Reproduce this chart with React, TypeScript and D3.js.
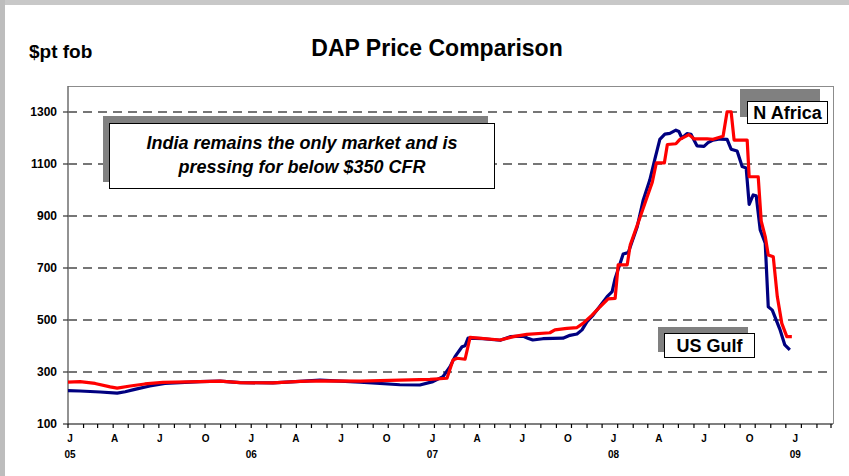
import React from "react";
import * as d3 from "d3";

// ---- Data ----
const usGulfDates = [
  "2005-01-01","2005-01-25","2005-03-06","2005-04-09","2005-04-25","2005-05-14","2005-06-13","2005-07-13",
  "2005-09-21","2005-10-31","2005-12-10","2006-02-13","2006-04-08","2006-05-18","2006-08-06","2006-10-24",
  "2006-12-03","2006-12-29","2007-01-18","2007-02-01","2007-02-11","2007-02-25","2007-03-03","2007-03-09",
  "2007-04-08","2007-05-12","2007-06-01","2007-06-26","2007-07-06","2007-07-16","2007-08-05","2007-09-14",
  "2007-09-28","2007-10-12","2007-10-22","2007-11-01","2007-11-13","2007-11-27","2007-12-11","2007-12-21",
  "2007-12-27","2008-01-06","2008-01-12","2008-01-22","2008-02-09","2008-02-21","2008-03-05","2008-03-15",
  "2008-03-25","2008-04-04","2008-04-14","2008-04-26","2008-05-02","2008-05-08","2008-05-18","2008-05-26",
  "2008-06-07","2008-06-21","2008-06-29","2008-07-09","2008-07-23","2008-08-06","2008-08-14","2008-08-26",
  "2008-09-05","2008-09-13","2008-09-19","2008-09-27","2008-10-03","2008-10-11","2008-10-21","2008-10-27",
  "2008-11-04","2008-11-19","2008-11-29","2008-12-09"
];
const usGulfValues = [
  228, 227, 223, 219, 224, 233, 246, 256,
  263, 265, 259, 258, 264, 269, 261, 251,
  250, 263, 282, 320, 359, 397, 401, 430,
  428, 422, 436, 438, 430, 423, 428, 430,
  441, 446, 462, 494, 519, 554, 590, 609,
  660, 718, 754, 759, 859, 962, 1038, 1118,
  1195, 1215, 1218, 1230, 1225, 1200, 1217, 1214,
  1170, 1168, 1182, 1192, 1196, 1195, 1157, 1150,
  1090, 1085, 945, 981, 978, 846, 795, 551,
  538, 465, 404, 385
];

const nAfricaDates = [
  "2005-01-01","2005-01-25","2005-02-24","2005-03-26","2005-04-09","2005-05-05","2005-06-03","2005-07-09",
  "2005-09-21","2005-10-31","2005-12-10","2006-02-13","2006-04-08","2006-05-18","2006-08-06","2006-10-24",
  "2006-12-23","2007-01-26","2007-02-07","2007-02-15","2007-03-03","2007-03-13","2007-05-12","2007-06-07",
  "2007-07-04","2007-08-19","2007-08-29","2007-09-22","2007-10-12","2007-10-24","2007-11-11","2007-11-27",
  "2007-12-13","2007-12-27","2008-01-02","2008-01-20","2008-01-26","2008-02-15","2008-02-29","2008-03-10",
  "2008-03-18","2008-04-03","2008-04-09","2008-04-26","2008-05-04","2008-05-22","2008-06-01","2008-06-27",
  "2008-07-09","2008-07-29","2008-08-06","2008-08-14","2008-08-20","2008-09-15","2008-09-19","2008-10-07",
  "2008-10-13","2008-10-21","2008-10-27","2008-11-06","2008-11-14","2008-11-23","2008-12-03","2008-12-13"
];
const nAfricaValues = [
  261, 263, 256, 243, 238, 246, 254, 260,
  263, 265, 259, 258, 264, 266, 265, 269,
  272, 276, 346, 353, 349, 433, 423, 436,
  445, 451, 462, 468, 471, 487, 519, 551,
  581, 583, 712, 712, 788, 897, 975, 1030,
  1104, 1104, 1175, 1178, 1195, 1213, 1197, 1197,
  1195, 1207, 1301, 1301, 1192, 1192, 1051, 1051,
  880, 821, 750, 743, 590, 487, 436, 436
];

const yTickValues = [100, 300, 500, 700, 900, 1100, 1300];
const gridValues = [300, 500, 700, 900, 1100, 1300];
const monthLetters = ["J", "F", "M", "A", "M", "J", "J", "A", "S", "O", "N", "D"];
const labeledMonths = [0, 3, 6, 9];

const titleText = "DAP Price Comparison";
const unitText = "$pt fob";
const noteLines = ["India remains the only market and is", "pressing for below $350 CFR"];
const nAfricaLabel = "N Africa";
const usGulfLabel = "US Gulf";

const W = 849;
const H = 476;
const FONT = "'Liberation Sans', Arial, sans-serif";

export default function App() {
  const parse = d3.timeParse("%Y-%m-%d");
  const x = d3
    .scaleTime()
    .domain([new Date(2005, 0, 1), new Date(2009, 2, 1)])
    .range([68, 831]);
  const y = d3.scaleLinear().domain([100, 1400]).range([424, 86]);

  const gulf = usGulfDates.map((d, i) => ({ date: parse(d) as Date, v: usGulfValues[i] }));
  const africa = nAfricaDates.map((d, i) => ({ date: parse(d) as Date, v: nAfricaValues[i] }));

  const line = d3
    .line<{ date: Date; v: number }>()
    .x((d) => x(d.date))
    .y((d) => y(d.v));

  const months = d3.timeMonth.range(new Date(2005, 0, 1), new Date(2009, 2, 2));

  const left = x.range()[0];
  const right = 833;
  const top = y(1400);
  const bottom = y(100);
  // label placement slightly compressed relative to ticks, as in the original
  const labelX = (xm: number) => 70 + (xm - left) * 0.989;

  return (
    <svg
      width={W}
      height={H}
      style={{ position: "absolute", left: 0, top: 0, background: "#fff" }}
      fontFamily={FONT}
    >
      <rect x={0} y={0} width={W} height={H} fill="#fff" />
      {/* outer frame bands */}
      <rect x={0} y={0} width={W} height={5} fill="#c8c8c8" />
      <rect x={0} y={0} width={5} height={H} fill="#bdbdbd" />

      {/* titles */}
      <text x={437} y={56} textAnchor="middle" fontSize={23} fontWeight="bold" fill="#000">
        {titleText}
      </text>
      <text x={29} y={58} fontSize={19} fontWeight="bold" fill="#000">
        {unitText}
      </text>

      {/* plot frame */}
      <line x1={left} x2={right} y1={top + 0.5} y2={top + 0.5} stroke="#8c8c8c" strokeWidth={1} />
      <line x1={right + 0.5} x2={right + 0.5} y1={top} y2={bottom} stroke="#8c8c8c" strokeWidth={1} />

      {/* gridlines */}
      {gridValues.map((v) => (
        <line
          key={"g" + v}
          x1={left}
          x2={right}
          y1={y(v)}
          y2={y(v)}
          stroke="#4a4a4a"
          strokeWidth={1.4}
          strokeDasharray="9,6"
        />
      ))}

      {/* y axis */}
      <line x1={left} x2={left} y1={top} y2={bottom} stroke="#6e6e6e" strokeWidth={1.5} />
      {yTickValues.map((v) => (
        <g key={"y" + v}>
          <line x1={left - 5} x2={left} y1={y(v)} y2={y(v)} stroke="#333" strokeWidth={1.2} />
          <text
            x={57}
            y={y(v)}
            dy="0.35em"
            textAnchor="end"
            fontSize={12}
            fontWeight="bold"
            fill="#000"
          >
            {v}
          </text>
        </g>
      ))}

      {/* x axis */}
      <line x1={left} x2={right} y1={bottom} y2={bottom} stroke="#000" strokeWidth={1.2} />
      {months.map((m, i) => {
        const xm = x(m);
        const mi = m.getMonth();
        return (
          <g key={"m" + i}>
            <line x1={xm} x2={xm} y1={bottom} y2={bottom + 4} stroke="#000" strokeWidth={1.2} />
            {labeledMonths.includes(mi) && (
              <text x={labelX(xm)} y={442} textAnchor="middle" fontSize={10} fontWeight="bold" fill="#000">
                {monthLetters[mi]}
              </text>
            )}
            {mi === 0 && (
              <text x={labelX(xm)} y={458} textAnchor="middle" fontSize={10} fontWeight="bold" fill="#000">
                {String(m.getFullYear()).slice(2)}
              </text>
            )}
          </g>
        );
      })}

      {/* data lines */}
      <path d={line(gulf) || ""} fill="none" stroke="#000080" strokeWidth={3.2} strokeLinejoin="round" />
      <path d={line(africa) || ""} fill="none" stroke="#ff0000" strokeWidth={3.2} strokeLinejoin="round" />

      {/* India note */}
      <rect x={103} y={116} width={385} height={66} fill="#808080" />
      <rect x={109.5} y={123.5} width={385} height={65} fill="#fff" stroke="#000" strokeWidth={1} />
      {noteLines.map((t, i) => (
        <text
          key={"n" + i}
          x={302}
          y={149 + i * 24}
          textAnchor="middle"
          fontSize={18}
          fontWeight="bold"
          fontStyle="italic"
          fill="#000"
        >
          {t}
        </text>
      ))}

      {/* N Africa label */}
      <rect x={740} y={89} width={80} height={28} fill="#808080" />
      <rect x={747.5} y={101.5} width={80} height={22} fill="#fff" stroke="#000" strokeWidth={1} />
      <text x={787.5} y={119} textAnchor="middle" fontSize={18} fontWeight="bold" fill="#000">
        {nAfricaLabel}
      </text>

      {/* US Gulf label */}
      <rect x={658} y={327} width={90} height={25} fill="#808080" />
      <rect x={664.5} y={333.5} width={90} height={24} fill="#fff" stroke="#000" strokeWidth={1} />
      <text x={709.5} y={352} textAnchor="middle" fontSize={18} fontWeight="bold" fill="#000">
        {usGulfLabel}
      </text>
    </svg>
  );
}
